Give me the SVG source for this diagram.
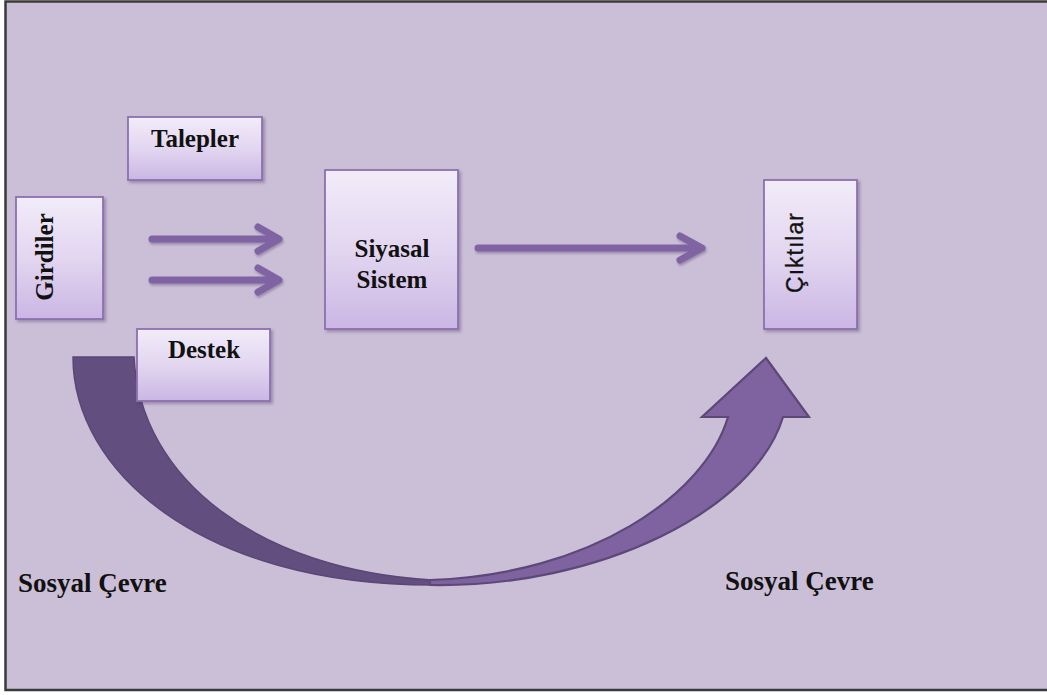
<svg xmlns="http://www.w3.org/2000/svg" width="1047" height="695" viewBox="0 0 1047 695">
<defs>
<linearGradient id="boxg" x1="0" y1="0" x2="0" y2="1">
<stop offset="0" stop-color="#F2ECF9"/>
<stop offset="0.5" stop-color="#E2D6F0"/>
<stop offset="1" stop-color="#CBB6E4"/>
</linearGradient>
<filter id="sh" x="-10%" y="-10%" width="125%" height="125%">
<feDropShadow dx="2" dy="2" stdDeviation="1.5" flood-color="#3a2a50" flood-opacity="0.35"/>
</filter>
<filter id="ash" x="-5%" y="-30%" width="110%" height="160%">
<feDropShadow dx="1" dy="2" stdDeviation="1.2" flood-color="#3a2a50" flood-opacity="0.35"/>
</filter>
</defs>
<style>
.box{fill:url(#boxg);stroke:#8D70B0;stroke-width:1.8;filter:url(#sh)}
.lbl{font-family:"Liberation Serif","Times New Roman",serif;font-weight:bold;font-size:25px;fill:#111;text-anchor:middle}
.env{font-family:"Liberation Serif","Times New Roman",serif;font-weight:bold;font-size:27px;fill:#111}
.arr{fill:none;stroke:#7F63A3;stroke-width:7;stroke-linecap:round;stroke-linejoin:round;filter:url(#ash)}
</style>
<rect x="0" y="0" width="1047" height="695" fill="#FFFFFF"/>
<rect x="5.5" y="1.5" width="1050" height="688.5" fill="#CBBED7" stroke="#3A3A3A" stroke-width="2.5"/>

<g id="connectors">
<path class="arr" d="M152,239 H278 M258,227 L279,239 L258,251"/>
<path class="arr" d="M152,280 H278 M258,268 L279,280 L258,292"/>
<path class="arr" d="M478,248 H702 M680,236 L702,248 L680,260"/>
<path id="curve-left" d="M73,357 L134,357 C140,480 260,570 432,580 L432,585 C200,585 73,470 73,357 Z" fill="#634F7F" stroke="#5A4776" stroke-width="1.5"/>
<path id="curve-right" d="M430,585 C600,588 755,510 783,417 L809,417 L766,358 L702,417 L728,417 C705,495 590,575 430,580 Z" fill="#7E63A0" stroke="#5D4878" stroke-width="2.2" stroke-linejoin="miter"/>
</g>

<g id="node-talepler">
<rect class="box" x="128" y="117" width="134" height="63"/>
<text class="lbl" x="195" y="147">Talepler</text>
</g>
<g id="node-girdiler">
<rect class="box" x="16" y="197" width="87" height="122"/>
<text class="lbl" transform="translate(53,257) rotate(-90)">Girdiler</text>
</g>
<g id="node-destek">
<rect class="box" x="137" y="329" width="133" height="72"/>
<text class="lbl" x="204" y="358">Destek</text>
</g>
<g id="node-siyasal">
<rect class="box" x="325" y="170" width="133" height="159"/>
<text class="lbl" x="392" y="257">Siyasal</text>
<text class="lbl" x="392" y="288">Sistem</text>
</g>
<g id="node-ciktilar">
<rect class="box" x="764" y="180" width="93" height="149"/>
<text transform="translate(803,253) rotate(-90)" text-anchor="middle" font-family="'Liberation Sans',Arial,sans-serif" font-size="23" fill="#111" stroke="#111" stroke-width="0.3" textLength="80" lengthAdjust="spacing">Çıktılar</text>
</g>

<g id="labels">
<text class="env" x="18" y="592">Sosyal Çevre</text>
<text class="env" x="725" y="590">Sosyal Çevre</text>
</g>
</svg>
